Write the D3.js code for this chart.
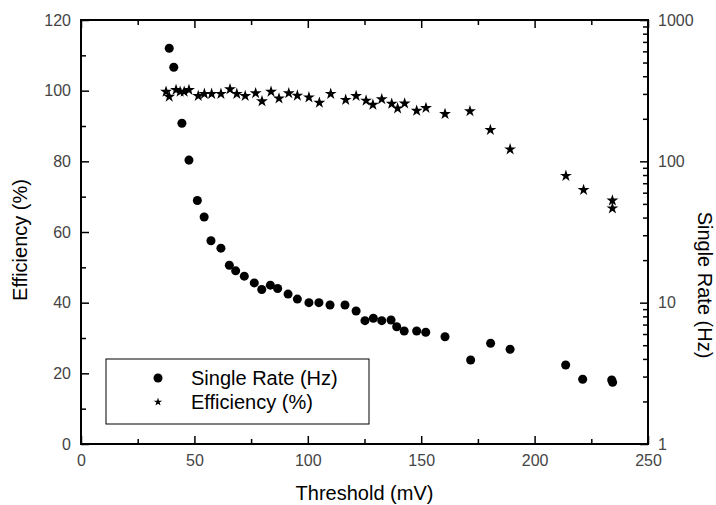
<!DOCTYPE html>
<html>
<head>
<meta charset="utf-8">
<script src="https://cdn.jsdelivr.net/npm/d3@7"></script>
<style>
body { margin: 0; background: #fff; }
svg { font-family: "Liberation Sans", Arial, sans-serif; }
.tick text { fill: #444; font-size: 16px; }
.tick line { stroke: #000; stroke-width: 1.5; }
</style>
</head>
<body>
<div id="chart"></div>
<script>
// single rate (Hz) vs threshold (mV), right log axis
var thresholdRate = [38.9, 40.9, 44.5, 47.6, 51.3, 54.3, 57.3, 61.7, 65.4, 68.2, 72.0, 76.4, 79.7, 83.5, 86.7, 91.3, 95.4, 100.5, 104.9, 109.8, 116.4, 121.3, 125.2, 128.9, 132.6, 136.7, 139.2, 142.5, 148.0, 152.0, 160.5, 171.8, 180.6, 189.2, 213.7, 221.2, 234.0, 234.4];
var singleRate = [631, 463, 186, 102, 52.8, 40.4, 27.4, 24.3, 18.4, 16.8, 15.4, 13.8, 12.4, 13.3, 12.6, 11.5, 10.6, 10.0, 10.0, 9.63, 9.63, 8.73, 7.46, 7.75, 7.46, 7.54, 6.76, 6.30, 6.30, 6.17, 5.74, 3.93, 5.16, 4.68, 3.62, 2.87, 2.84, 2.73];

// efficiency (%) vs threshold (mV), left axis
var thresholdEff = [37.5, 38.9, 41.9, 43.7, 45.5, 47.6, 51.7, 54.4, 57.6, 61.7, 65.7, 68.7, 72.4, 77.0, 79.8, 83.8, 87.3, 91.6, 95.4, 100.5, 105.1, 110.1, 116.7, 121.3, 125.7, 128.7, 132.6, 137.0, 139.6, 142.7, 148.0, 152.1, 160.5, 171.5, 180.5, 189.2, 213.8, 221.6, 234.3, 234.3];
var efficiency = [99.7, 98.3, 100.2, 99.7, 99.7, 100.2, 98.5, 99.1, 99.1, 99.1, 100.4, 99.1, 98.5, 99.3, 97.0, 99.7, 97.8, 99.3, 98.6, 98.1, 96.6, 99.1, 97.4, 98.5, 97.2, 96.0, 97.6, 96.3, 95.0, 96.4, 94.3, 95.1, 93.4, 94.2, 88.9, 83.4, 75.9, 71.9, 68.9, 66.7];

var xTicks = [0, 50, 100, 150, 200, 250];
var xMinor = [25, 75, 125, 175, 225];
var yTicks = [0, 20, 40, 60, 80, 100, 120];
var yMinor = [10, 30, 50, 70, 90, 110];
var rTicks = [1, 10, 100, 1000];
var legendLabels = ["Single Rate (Hz)", "Efficiency (%)"];

var width = 716, height = 505;
var margin = {top: 20, right: 68, bottom: 61, left: 81};

var svg = d3.select("#chart")
	.append("svg")
	.attr("width", width)
	.attr("height", height);

var x = d3.scaleLinear().domain([0, 250]).range([margin.left, width - margin.right]);
var y = d3.scaleLinear().domain([0, 120]).range([height - margin.bottom, margin.top]);
var yR = d3.scaleLog().domain([1, 1000]).range([height - margin.bottom, margin.top]);

var bottom = height - margin.bottom, right = width - margin.right;

// log minor ticks 2..9 in each decade
var rMinor = [];
[1, 10, 100].forEach(function(d){
	for (var k = 2; k <= 9; k++) rMinor.push(d * k);
});

function noLabels(g){ g.select(".domain").remove(); g.selectAll("text").remove(); }

// bottom axis
svg.append("g")
	.attr("transform", "translate(0," + bottom + ")")
	.call(d3.axisBottom(x).tickValues(xTicks).tickSize(-8).tickPadding(11).tickFormat(d3.format("d")))
	.call(function(g){ g.select(".domain").remove(); });
svg.append("g")
	.attr("transform", "translate(0," + bottom + ")")
	.call(d3.axisBottom(x).tickValues(xMinor).tickSize(-5))
	.call(noLabels);

// top axis, ticks only
svg.append("g")
	.attr("transform", "translate(0," + margin.top + ")")
	.call(d3.axisTop(x).tickValues(xTicks).tickSize(-8))
	.call(noLabels);
svg.append("g")
	.attr("transform", "translate(0," + margin.top + ")")
	.call(d3.axisTop(x).tickValues(xMinor).tickSize(-5))
	.call(noLabels);

// left axis
svg.append("g")
	.attr("transform", "translate(" + margin.left + ",0)")
	.call(d3.axisLeft(y).tickValues(yTicks).tickSize(-8).tickPadding(10).tickFormat(d3.format("d")))
	.call(function(g){ g.select(".domain").remove(); });
svg.append("g")
	.attr("transform", "translate(" + margin.left + ",0)")
	.call(d3.axisLeft(y).tickValues(yMinor).tickSize(-5))
	.call(noLabels);

// right log axis
svg.append("g")
	.attr("transform", "translate(" + right + ",0)")
	.call(d3.axisRight(yR).tickValues(rTicks).tickSize(-8).tickPadding(10).tickFormat(d3.format("d")))
	.call(function(g){ g.select(".domain").remove(); });
svg.append("g")
	.attr("transform", "translate(" + right + ",0)")
	.call(d3.axisRight(yR).tickValues(rMinor).tickSize(-5))
	.call(noLabels);

// frame
svg.append("rect")
	.attr("x", margin.left)
	.attr("y", margin.top)
	.attr("width", right - margin.left)
	.attr("height", bottom - margin.top)
	.attr("fill", "none")
	.attr("stroke", "#000")
	.attr("stroke-width", 2);

var circleSym = d3.symbol().type(d3.symbolCircle).size(64);
var starSym = d3.symbol().type(d3.symbolStar).size(44);

svg.selectAll(".rate")
	.data(thresholdRate)
	.enter()
	.append("path")
	.attr("class", "rate")
	.attr("d", circleSym)
	.attr("fill", "#000")
	.attr("transform", function(d, i){
		return "translate(" + x(d) + "," + yR(singleRate[i]) + ")";
	});

svg.selectAll(".eff")
	.data(thresholdEff)
	.enter()
	.append("path")
	.attr("class", "eff")
	.attr("d", starSym)
	.attr("fill", "#000")
	.attr("transform", function(d, i){
		return "translate(" + x(d) + "," + y(efficiency[i]) + ")";
	});

// legend
var legend = svg.append("g");
legend.append("rect")
	.attr("x", 106).attr("y", 359)
	.attr("width", 263).attr("height", 65)
	.attr("fill", "#fff")
	.attr("stroke", "#000")
	.attr("stroke-width", 1);

legend.append("path")
	.attr("d", circleSym)
	.attr("transform", "translate(158,378)");
legend.append("path")
	.attr("d", d3.symbol().type(d3.symbolStar).size(22))
	.attr("transform", "translate(158,402)");

legend.selectAll(".ltext")
	.data(legendLabels)
	.enter()
	.append("text")
	.attr("class", "ltext")
	.attr("x", 191)
	.attr("y", function(d, i){ return 378 + i * 24; })
	.attr("dy", "0.35em")
	.style("font-size", "20px")
	.text(function(d){ return d; });

// axis titles
svg.append("text")
	.attr("x", (margin.left + right) / 2)
	.attr("y", 493)
	.attr("dy", "0.35em")
	.attr("text-anchor", "middle")
	.style("font-size", "20px")
	.text("Threshold (mV)");

svg.append("text")
	.attr("transform", "translate(20,240) rotate(-90)")
	.attr("dy", "0.35em")
	.attr("text-anchor", "middle")
	.style("font-size", "20px")
	.text("Efficiency (%)");

svg.append("text")
	.attr("transform", "translate(705,285) rotate(90)")
	.attr("dy", "0.35em")
	.attr("text-anchor", "middle")
	.style("font-size", "20px")
	.text("Single Rate (Hz)");
</script>
</body>
</html>
